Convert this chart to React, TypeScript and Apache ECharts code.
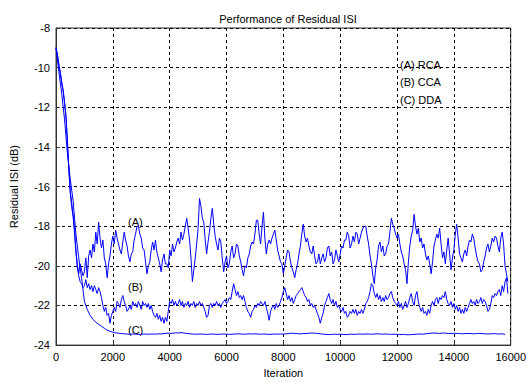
import React, { useEffect, useRef } from "react";
import * as echarts from "echarts";

// Iteration step between consecutive stored samples
const STEP_AB = 50;
const STEP_C = 100;

const xTicks = [0, 2000, 4000, 6000, 8000, 10000, 12000, 14000, 16000];
const yTicks = [-24, -22, -20, -18, -16, -14, -12, -10, -8];

// (A) RCA
const seriesA = [
  -9.0, -9.3, -9.8, -10.2, -10.7, -11.1, -11.7, -12.4, -13.6, -15.0, -16.2, -16.8, -17.4, -18.1, -19.2, -19.9, -20.4, -19.9, -20.2, -20.5,
  -20.3, -19.6, -20.6, -19.5, -19.2, -19.6, -18.9, -19.3, -18.3, -18.9, -17.8, -18.6, -19.1, -18.7, -19.6, -19.9, -20.6, -19.9, -19.5, -18.9,
  -18.5, -18.9, -18.2, -18.6, -18.9, -19.2, -19.4, -18.8, -18.3, -18.7, -19.0, -19.5, -19.8, -19.4, -19.3, -18.7, -18.4, -18.0, -18.0, -18.4,
  -18.6, -19.1, -19.2, -19.8, -20.4, -20.0, -19.8, -19.2, -18.8, -19.2, -18.7, -19.3, -19.6, -19.9, -20.3, -19.7, -19.4, -19.9, -19.9, -20.1,
  -19.2, -19.5, -18.9, -19.3, -19.1, -18.8, -18.6, -18.9, -18.3, -18.7, -18.4, -18.0, -17.6, -18.1, -18.7, -19.6, -20.8, -20.2, -19.6, -18.9,
  -18.1, -16.6, -17.0, -17.6, -17.8, -18.7, -19.4, -18.8, -18.3, -17.6, -17.1, -17.9, -18.5, -18.9, -19.2, -18.6, -18.8, -19.6, -20.3, -19.8,
  -19.5, -20.1, -19.9, -19.3, -19.0, -19.6, -19.4, -18.9, -19.0, -19.5, -19.8, -20.2, -20.5, -20.0, -20.1, -19.6, -19.4, -19.0, -18.8, -18.9,
  -18.4, -17.7, -17.7, -18.4, -18.9, -18.0, -17.3, -18.6, -19.4, -18.9, -18.7, -18.9, -18.6, -18.4, -18.2, -18.7, -19.2, -19.5, -19.8, -19.9,
  -20.4, -20.0, -19.6, -19.2, -19.3, -19.8, -20.1, -20.3, -20.6, -20.2, -19.9, -19.4, -19.0, -18.4, -17.9, -18.5, -18.8, -18.6, -19.0, -19.3,
  -19.4, -19.0, -19.5, -19.9, -19.8, -19.4, -19.9, -19.6, -19.4, -19.8, -19.6, -19.1, -19.0, -19.5, -19.3, -19.9, -19.7, -19.2, -19.5, -19.8,
  -19.4, -19.0, -19.1, -18.7, -18.7, -18.3, -18.5, -19.1, -18.9, -18.5, -18.8, -18.3, -18.4, -18.9, -18.6, -18.3, -18.1, -18.0, -18.0, -18.5,
  -18.9, -19.5, -19.9, -20.5, -20.9, -20.1, -19.7, -19.0, -18.8, -19.3, -19.0, -19.5, -19.4, -19.0, -18.9, -18.3, -17.6, -17.9, -18.1, -18.4,
  -18.6, -18.4, -18.9, -19.3, -19.5, -19.9, -20.2, -20.9, -19.8, -19.0, -18.5, -18.2, -17.4, -18.0, -18.4, -18.1, -18.8, -18.6, -19.1, -18.9,
  -19.4, -19.7, -19.5, -19.9, -20.4, -19.8, -19.0, -18.7, -18.4, -18.6, -18.1, -18.9, -19.6, -19.3, -19.9, -19.2, -18.6, -19.4, -20.2, -19.6,
  -19.2, -18.4, -17.9, -18.6, -19.4, -19.6, -19.8, -19.4, -19.2, -19.5, -19.0, -18.7, -18.8, -18.4, -18.6, -19.1, -19.5, -19.8, -19.9, -20.3,
  -20.2, -19.8, -19.5, -19.1, -18.9, -19.3, -19.0, -18.6, -18.8, -18.5, -18.6, -19.0, -19.3, -18.6, -18.3, -18.9, -20.0, -20.4, -20.8,
];

// (B) CCA
const seriesB = [
  -9.0, -9.4, -9.9, -10.3, -10.8, -11.2, -11.8, -12.5, -13.8, -15.1, -16.3, -17.0, -17.5, -18.3, -19.3, -20.1, -20.5, -20.8, -20.9, -21.1,
  -21.0, -20.7, -21.1, -20.9, -21.2, -21.0, -21.3, -21.0, -21.2, -21.4, -21.1, -21.3, -21.6, -22.0, -22.3, -22.1, -22.5, -22.4, -22.9, -22.5,
  -22.3, -22.1, -22.3, -21.8, -21.9, -22.1, -21.7, -21.5, -21.8, -22.0, -22.3, -22.2, -22.0, -22.2, -21.8, -22.0, -21.9, -22.1, -21.8, -22.0,
  -22.2, -21.8, -22.0, -21.9, -22.1, -21.9, -22.2, -22.0, -22.3, -22.5, -22.6, -22.4, -22.7, -22.5, -22.8, -22.6, -22.9, -22.6, -22.8, -22.3,
  -21.8, -21.9, -21.7, -22.0, -21.8, -22.0, -21.9, -21.7, -22.0, -21.8, -22.1, -21.9, -22.0, -21.8, -22.1, -21.9, -22.0, -21.8, -22.1, -21.9,
  -22.0, -21.8, -22.0, -21.9, -22.1, -22.3, -22.6, -22.5, -22.0, -21.9, -22.1, -21.9, -22.0, -21.8, -22.0, -21.9, -22.1, -21.9, -21.8, -21.7,
  -21.9, -21.8, -21.6, -21.7, -21.3, -20.9, -21.2, -21.5, -21.3, -21.6, -21.5, -21.7, -21.5, -21.8, -22.1, -22.3, -22.4, -22.6, -22.3, -22.2,
  -22.0, -22.1, -21.9, -22.0, -21.8, -21.9, -22.0, -21.8, -22.1, -22.4, -22.75, -22.3, -22.1, -22.0, -22.2, -21.9, -22.1, -22.0, -21.8, -21.6,
  -21.3, -21.1, -21.4, -21.7, -21.5, -21.8, -21.6, -21.9, -21.7, -21.5, -21.4, -21.3, -21.2, -21.1, -21.3, -21.5, -21.6, -21.8, -21.7, -22.0,
  -21.9, -22.1, -22.0, -22.2, -22.4, -22.6, -22.9, -22.6, -22.4, -22.0, -21.8, -21.6, -21.4, -21.7, -21.9, -21.7, -22.0, -21.8, -22.1, -22.0,
  -22.2, -22.3, -22.1, -22.4, -22.3, -22.6, -22.5, -22.3, -22.4, -22.2, -22.4, -22.2, -22.5, -22.3, -22.4, -22.2, -22.4, -22.2, -21.9, -21.8,
  -21.6, -21.3, -20.9, -21.0, -21.4, -21.6, -21.4, -21.7, -21.5, -21.8, -21.6, -21.8, -21.5, -21.7, -21.6, -21.4, -21.3, -21.6, -21.8, -21.9,
  -22.0, -21.8, -22.1, -21.9, -22.2, -22.0, -21.8, -22.1, -21.9, -21.6, -21.4, -21.8, -22.0, -21.5, -21.3, -21.8, -22.1, -22.3, -22.1, -22.4,
  -22.3, -22.5, -22.2, -22.4, -22.0, -21.8, -22.0, -21.7, -21.6, -21.9, -21.6, -21.7, -21.5, -21.6, -21.3, -21.7, -21.9, -22.0, -21.8, -22.1,
  -21.9, -22.2, -22.0, -22.3, -22.1, -22.4, -22.2, -22.4, -22.1, -22.3, -22.1, -21.9, -21.7, -21.9, -21.8, -22.0, -21.7, -21.9, -21.8, -21.6,
  -21.9, -21.7, -21.8, -22.0, -22.3, -22.2, -21.9, -21.5, -21.6, -21.4, -21.5, -21.3, -21.2, -21.5, -21.0, -21.3, -20.8, -20.6, -21.4,
];

// (C) DDA
const seriesC = [
  -9.0, -10.2, -11.3, -12.6, -14.3, -15.6, -16.7, -18.4, -19.6, -20.6,
  -21.8, -22.2, -22.5, -22.7, -22.85, -22.95, -23.05, -23.15, -23.25, -23.3,
  -23.35, -23.38, -23.4, -23.42, -23.43, -23.44, -23.45, -23.44, -23.45, -23.46,
  -23.45, -23.44, -23.45, -23.45, -23.44, -23.45, -23.43, -23.44, -23.42, -23.4,
  -23.4, -23.41, -23.38, -23.39, -23.37, -23.39, -23.41, -23.43, -23.44, -23.45,
  -23.45, -23.44, -23.45, -23.46, -23.45, -23.44, -23.45, -23.46, -23.45, -23.44,
  -23.45, -23.46, -23.45, -23.44, -23.43, -23.44, -23.45, -23.44, -23.43, -23.44,
  -23.43, -23.44, -23.45, -23.44, -23.45, -23.46, -23.45, -23.44, -23.45, -23.44,
  -23.44, -23.43, -23.42, -23.4, -23.41, -23.42, -23.43, -23.42, -23.41, -23.4,
  -23.39, -23.4, -23.41, -23.43, -23.45, -23.46, -23.47, -23.46, -23.45, -23.46,
  -23.45, -23.46, -23.47, -23.46, -23.45, -23.46, -23.45, -23.44, -23.45, -23.44,
  -23.44, -23.45, -23.44, -23.43, -23.44, -23.45, -23.44, -23.45, -23.46, -23.45,
  -23.46, -23.47, -23.46, -23.47, -23.48, -23.47, -23.46, -23.45, -23.44, -23.45,
  -23.43, -23.41, -23.4, -23.39, -23.4, -23.41, -23.39, -23.4, -23.41, -23.42,
  -23.4, -23.41, -23.42, -23.43, -23.42, -23.41, -23.42, -23.43, -23.42, -23.41,
  -23.42, -23.43, -23.44, -23.43, -23.42, -23.43, -23.44, -23.43, -23.46,
];

const legendLines = ["(A) RCA", "(B) CCA", "(C) DDA"];
const curveLabels = ["(A)", "(B)", "(C)"];

const FONT = '"Liberation Sans", Arial, sans-serif';

function toPairs(values: number[], step: number): [number, number][] {
  return values.map((v, i) => [i * step, v]);
}

export default function App() {
  const ref = useRef<HTMLDivElement>(null);

  useEffect(() => {
    if (!ref.current) return;
    const chart = echarts.init(ref.current, null, { renderer: "svg" });
    const lineStyle = { color: "#0000ff", width: 1 };
    chart.setOption({
      animation: false,
      backgroundColor: "#ffffff",
      title: {
        text: "Performance of Residual ISI",
        left: 283,
        textAlign: "center",
        top: 8,
        textStyle: { fontFamily: FONT, fontSize: 11, fontWeight: "normal", color: "#000" },
      },
      grid: {
        left: 55,
        top: 28,
        right: 18,
        bottom: 35,
        show: true,
        borderColor: "#333",
        borderWidth: 1,
        backgroundColor: "#fff",
      },
      xAxis: {
        type: "value",
        min: xTicks[0],
        max: xTicks[xTicks.length - 1],
        interval: 2000,
        name: "Iteration",
        nameLocation: "middle",
        nameGap: 21,
        nameTextStyle: { fontFamily: FONT, fontSize: 11, color: "#000" },
        axisLine: { show: true, lineStyle: { color: "#333" } },
        axisTick: { show: true, inside: true, length: 4, lineStyle: { color: "#333" } },
        axisLabel: {
          fontFamily: FONT,
          fontSize: 11,
          color: "#000",
          margin: 6,
          formatter: (v: number) => String(v),
        },
        splitLine: { show: true, lineStyle: { color: "#000", type: [3, 3], width: 1 } },
      },
      yAxis: {
        type: "value",
        min: yTicks[0],
        max: yTicks[yTicks.length - 1],
        interval: 2,
        name: "Residual ISI (dB)",
        nameLocation: "middle",
        nameGap: 37,
        nameTextStyle: { fontFamily: FONT, fontSize: 11, color: "#000" },
        axisLine: { show: true, lineStyle: { color: "#333" } },
        axisTick: { show: true, inside: true, length: 4, lineStyle: { color: "#333" } },
        axisLabel: {
          fontFamily: FONT,
          fontSize: 11,
          color: "#000",
          margin: 6,
          formatter: (v: number) => String(v),
        },
        splitLine: { show: true, lineStyle: { color: "#000", type: [3, 3], width: 1 } },
      },
      series: [
        { name: "RCA", type: "line", data: toPairs(seriesA, STEP_AB), showSymbol: false, symbol: "none", lineStyle },
        { name: "CCA", type: "line", data: toPairs(seriesB, STEP_AB), showSymbol: false, symbol: "none", lineStyle },
        { name: "DDA", type: "line", data: toPairs(seriesC, STEP_C), showSymbol: false, symbol: "none", lineStyle },
      ],
      graphic: [
        ...legendLines.map((t, i) => ({
          type: "text",
          left: 400,
          top: 59 + i * 17.5,
          style: { text: t, font: `11px ${FONT}`, fill: "#000" },
        })),
        ...curveLabels.map((t, i) => ({
          type: "text",
          left: 128,
          top: [216, 281, 324][i],
          style: { text: t, font: `11px ${FONT}`, fill: "#000" },
        })),
      ],
    });
    return () => chart.dispose();
  }, []);

  return (
    <div
      ref={ref}
      style={{ position: "fixed", left: 0, top: 0, width: 529, height: 383, background: "#fff" }}
    />
  );
}
